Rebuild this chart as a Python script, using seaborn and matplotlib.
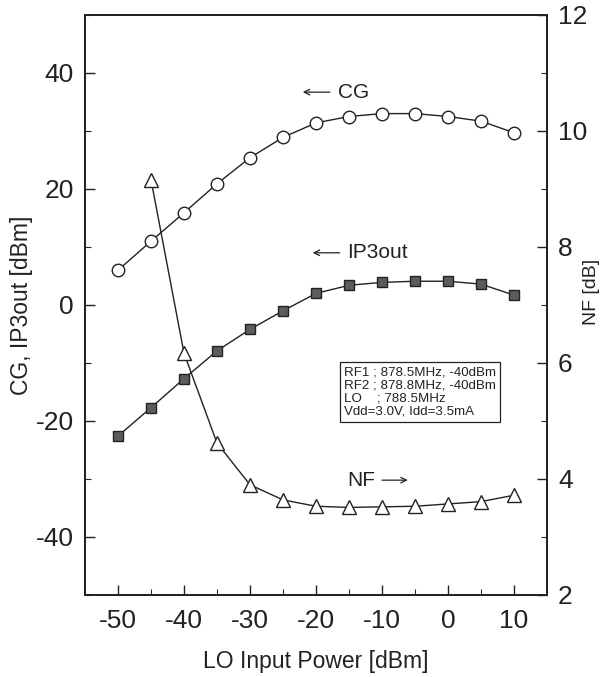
import matplotlib
matplotlib.use("Agg")
import matplotlib.pyplot as plt
import seaborn as sns
import pandas as pd
from matplotlib.ticker import MultipleLocator

lo_power = [-50, -45, -40, -35, -30, -25, -20, -15, -10, -5, 0, 5, 10]
cg = [6.0, 11.0, 15.9, 20.9, 25.4, 28.9, 31.4, 32.5, 33.0, 33.0, 32.5, 31.7, 29.7]
ip3out = [-22.6, -17.7, -12.7, -7.9, -4.2, -1.0, 2.0, 3.4, 3.9, 4.1, 4.1, 3.6, 1.7]
nf_lo = [-45, -40, -35, -30, -25, -20, -15, -10, -5, 0, 5, 10]
nf = [9.16, 6.17, 4.62, 3.90, 3.64, 3.53, 3.51, 3.52, 3.53, 3.57, 3.61, 3.72]

box_lines = ["RF1 ; 878.5MHz, -40dBm", "RF2 ; 878.8MHz, -40dBm",
             "LO    ; 788.5MHz", "Vdd=3.0V, Idd=3.5mA"]

sns.set_style("ticks")
plt.rcParams['font.family'] = ['Liberation Sans', 'DejaVu Sans']
plt.rcParams['axes.unicode_minus'] = False

df1 = pd.DataFrame({"x": lo_power, "cg": cg, "ip3": ip3out})
df2 = pd.DataFrame({"x": nf_lo, "nf": nf})

fig = plt.figure(figsize=(6.04, 6.77), dpi=100)
ax = fig.add_axes([85/604, 1-595/677, (547-85)/604, (595-15)/677])
ax2 = ax.twinx()

sns.lineplot(data=df1, x="x", y="cg", ax=ax, color="#222222", lw=1.0,
             marker="o", markersize=9, markerfacecolor="white",
             markeredgecolor="#222222", markeredgewidth=1.0)
sns.lineplot(data=df1, x="x", y="ip3", ax=ax, color="#222222", lw=1.0,
             marker="s", markersize=7.5, markerfacecolor="#5c5c5c",
             markeredgecolor="#222222", markeredgewidth=1.0)
sns.lineplot(data=df2, x="x", y="nf", ax=ax2, color="#222222", lw=1.0,
             marker="^", markersize=9.5, markerfacecolor="white",
             markeredgecolor="#222222", markeredgewidth=1.0)

ax.set_xlim(-55, 15)
ax.set_ylim(-50, 50)
ax2.set_ylim(2, 12)

ax.xaxis.set_major_locator(MultipleLocator(10))
ax.xaxis.set_minor_locator(MultipleLocator(5))
ax.yaxis.set_major_locator(MultipleLocator(20))
ax.yaxis.set_minor_locator(MultipleLocator(10))
ax2.yaxis.set_major_locator(MultipleLocator(2))
ax2.yaxis.set_minor_locator(MultipleLocator(1))

for a in (ax, ax2):
    for s in a.spines.values():
        s.set_visible(True)
        s.set_linewidth(1.3)
        s.set_color("#222222")

ax.tick_params(axis="both", which="major", direction="in", length=7, width=1.0,
               labelsize=19, colors="#222222", pad=8)
ax.tick_params(axis="both", which="minor", direction="in", length=4, width=0.8)
ax.tick_params(axis="x", top=False, which="both", pad=10)
ax.tick_params(axis="y", right=False, which="both")
ax2.tick_params(axis="y", which="major", direction="in", length=7, width=1.0,
                labelsize=19, colors="#222222", pad=8)
ax2.tick_params(axis="y", which="minor", direction="in", length=4, width=0.8)

ax.set_xlabel("LO Input Power [dBm]", fontsize=16.5, color="#222222", labelpad=12)
ax.set_ylabel("CG, IP3out [dBm]", fontsize=16.5, color="#222222", labelpad=2)
ax2.set_ylabel("NF [dB]", fontsize=14, color="#222222", rotation=90)
ax2.yaxis.set_label_coords((583 - 85) / 462, (595 - 292) / 580)

arrow = dict(arrowstyle="->", lw=0.9, color="#222222", shrinkA=0, shrinkB=0)
ax.annotate("", xy=(-22.0, 36.7), xytext=(-17.9, 36.7), arrowprops=arrow)
ax.text(-16.7, 36.7, "CG", fontsize=15, va="center", ha="left", color="#222222")
ax.annotate("", xy=(-20.5, 9.0), xytext=(-16.4, 9.0), arrowprops=arrow)
ax.text(-15.3, 9.0, "IP3out", fontsize=15, va="center", ha="left", color="#222222")
ax.text(-15.2, -30.2, "NF", fontsize=15, va="center", ha="left", color="#222222")
ax.annotate("", xy=(-6.1, -30.2), xytext=(-10.0, -30.2), arrowprops=arrow)

ax.text(-15.7, -10.6, "\n".join(box_lines), fontsize=9.6, va="top", ha="left",
        linespacing=1.12, color="#222222", zorder=5,
        bbox=dict(boxstyle="square,pad=0.3", facecolor="white",
                  edgecolor="#222222", linewidth=0.9))

fig.savefig("out.png", dpi=100)
